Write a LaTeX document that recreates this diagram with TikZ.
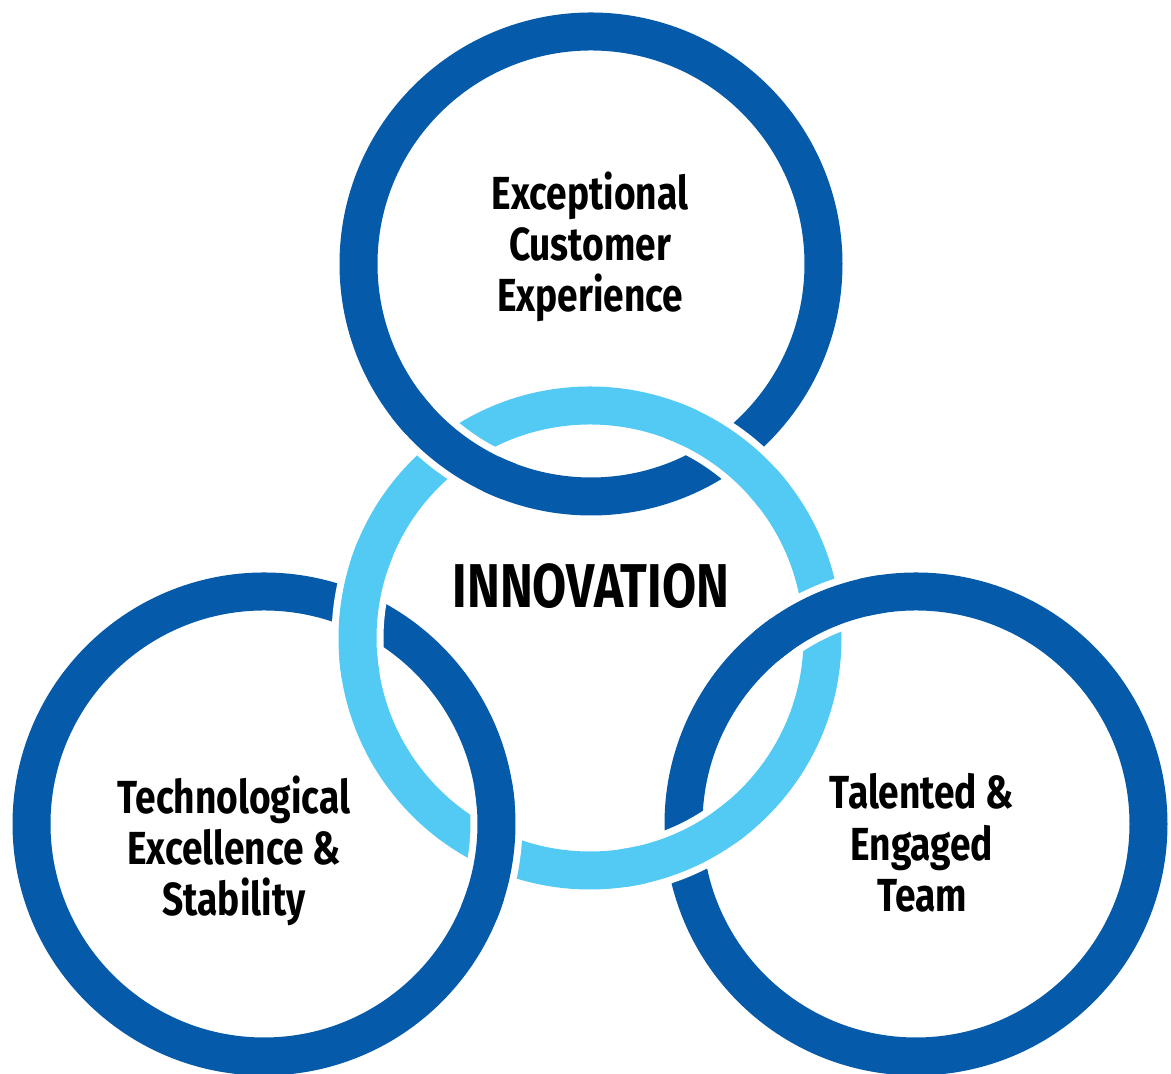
\documentclass[tikz,border=0pt]{standalone}
\usepackage{fontspec}
\setmainfont{Fira Sans}[FakeStretch=0.8]
\definecolor{ringdark}{RGB}{5,91,170}
\definecolor{ringlight}{RGB}{82,202,243}
\newcommand{\ringr}{2.325}
% redraw a piece of a ring on top, with a white border round it
\newcommand{\crossover}[3]{%
	\draw[white,line width=5.2mm] ([shift={({#2-11}:\ringr)}]#1)
	arc[start angle=#2-11,end angle=#2+11,radius=\ringr];
	\draw[#3,line width=3.8mm] ([shift={({#2-16}:\ringr)}]#1)
	arc[start angle=#2-16,end angle=#2+16,radius=\ringr];}
\begin{document}
\begin{tikzpicture}[line cap=butt,
		ring/.style={line width=3.8mm},
		lbl/.style={font=\bfseries\fontsize{13.2}{14.6}\selectfont, align=center, inner sep=0pt}]
			\useasboundingbox (0,0) rectangle (11.71,10.74);
			\coordinate (top) at (5.91,8.10);
			\coordinate (mid) at (5.90,4.36);
			\coordinate (left) at (2.64,2.50);
			\coordinate (right) at (9.16,2.50);
			\draw[ring,ringdark] (top) circle (\ringr);
			\draw[ring,ringdark] (left) circle (\ringr);
			\draw[ring,ringdark] (right) circle (\ringr);
			\draw[ring,ringlight] (mid) circle (\ringr);
			\crossover{top}{233.4}{ringdark}
			\crossover{mid}{53.6}{ringlight}
			\crossover{right}{114.1}{ringdark}
			\crossover{mid}{294.1}{ringlight}
			\crossover{left}{353.6}{ringdark}
			\crossover{mid}{173.6}{ringlight}
			\node[lbl] (cust) at (5.90,8.27) {Exceptional\\Customer\\Experience};
			\node[lbl, font=\bfseries\fontsize{17.6}{19}\selectfont] (innov) at (5.91,4.88) {INNOVATION};
			\node[lbl] (tech) at (2.34,2.23) {Technological\\Excellence \&\\Stability};
			\node[lbl] (team) at (9.22,2.31) {Talented \&\\Engaged\\Team};
		\end{tikzpicture}
\end{document}
